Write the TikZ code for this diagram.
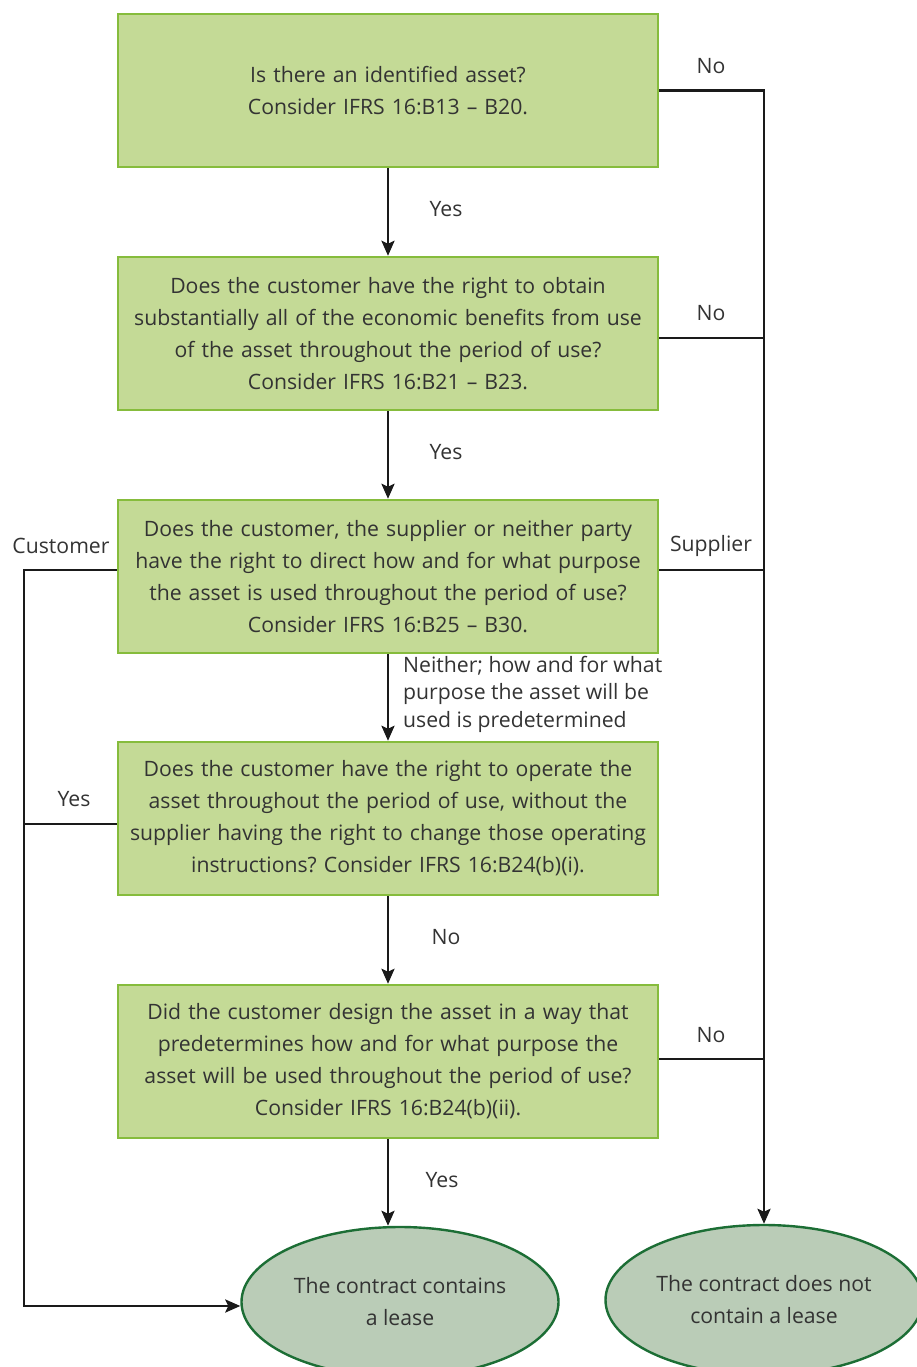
\documentclass[tikz,border=0pt]{standalone}
\usepackage{fontspec}
\setmainfont{Open Sans}
\frenchspacing
\usetikzlibrary{arrows.meta,shapes.geometric,calc}
\definecolor{boxfill}{HTML}{C4DA96}
\definecolor{boxline}{HTML}{86BC3C}
\definecolor{ellfill}{HTML}{BACCB7}
\definecolor{ellline}{HTML}{1C6E35}
\definecolor{txt}{HTML}{333333}
\definecolor{conn}{HTML}{1A1A1A}
\tikzset{
  qbox/.style={draw=boxline, line width=2.4pt, fill=boxfill, rectangle,
    minimum width=540pt, minimum height=153pt, inner sep=0pt,
    text width=536pt, align=center, text=txt,
    font=\fontsize{21.2pt}{32pt}\selectfont},
  endell/.style={draw=ellline, line width=2.4pt, fill=ellfill, ellipse,
    minimum width=317pt, minimum height=150pt, inner sep=0pt,
    align=center, text=txt, font=\fontsize{21.2pt}{32pt}\selectfont},
  lbl/.style={text=txt, font=\fontsize{21.2pt}{32pt}\selectfont, inner sep=0pt},
  conn/.style={draw=conn, line width=2.7pt},
  arr/.style={conn, -{Stealth[length=15pt,width=13pt,inset=3pt]}}
}
\begin{document}
\begin{tikzpicture}[x=1pt,y=-1pt]
\useasboundingbox (0,0) rectangle (917,1367);
\node[qbox] (b1) at (388,90.5) {Is there an identified asset?\\Consider IFRS 16:B13 – B20.};
\node[qbox] (b2) at (388,333.5) {Does the customer have the right to obtain\\substantially all of the economic benefits from use\\of the asset throughout the period of use?\\Consider IFRS 16:B21 – B23.};
\node[qbox] (b3) at (388,576.5) {Does the customer, the supplier or neither party\\have the right to direct how and for what purpose\\the asset is used throughout the period of use?\\Consider IFRS 16:B25 – B30.};
\node[qbox] (b4) at (388,818.5) {Does the customer have the right to operate the\\asset throughout the period of use, without the\\supplier having the right to change those operating\\instructions? Consider IFRS 16:B24(b)(i).};
\node[qbox] (b5) at (388,1061.5) {Did the customer design the asset in a way that\\predetermines how and for what purpose the\\asset will be used throughout the period of use?\\Consider IFRS 16:B24(b)(ii).};
\node[endell] (e1) at (400,1302) {The contract contains\\a lease};
\node[endell] (e2) at (764,1300) {The contract does not\\contain a lease};
\coordinate (lc) at (24,1306);
\coordinate (b2r) at ([yshift=-4.5pt]b2.east);
\coordinate (b3r) at ([yshift=6.5pt]b3.east);
\coordinate (b3l) at ([yshift=6.5pt]b3.west);
\coordinate (b4l) at ([yshift=-5.5pt]b4.west);
\coordinate (b5r) at ([yshift=2.5pt]b5.east);
% vertical flow
\draw[arr] (b1.south) -- (b2.north);
\draw[arr] (b2.south) -- (b3.north);
\draw[arr] (b3.south) -- (b4.north);
\draw[arr] (b4.south) -- (b5.north);
\draw[arr] (b5.south) -- (b5.south |- e1.north);
% right side
\draw[arr] (b1.east) -| (e2.north);
\draw[conn] (b2r) -- (b2r -| e2.north);
\draw[conn] (b3r) -- (b3r -| e2.north);
\draw[conn] (b5r) -- (b5r -| e2.north);
% left side
\draw[arr] (b3l) -| (lc) -- (lc -| e1.west);
\draw[conn] (b4l) -- (b4l -| lc);
% labels
\node[lbl] (l1) at (711,66) {No};
\node[lbl] (l2) at (446,209) {Yes};
\node[lbl] (l3) at (711,313) {No};
\node[lbl] (l4) at (446,452) {Yes};
\node[lbl] (l5) at (61,546) {Customer};
\node[lbl] (l6) at (711,546) {Supplier};
\node[lbl, anchor=north west, align=left, font=\fontsize{21.2pt}{27.5pt}\selectfont] (l7) at (403,656) {Neither; how and for what\\purpose the asset will be\\used is predetermined};
\node[lbl] (l8) at (74,799) {Yes};
\node[lbl] (l9) at (446,937) {No};
\node[lbl] (l10) at (711,1035) {No};
\node[lbl] (l11) at (442,1180) {Yes};
\end{tikzpicture}
\end{document}
